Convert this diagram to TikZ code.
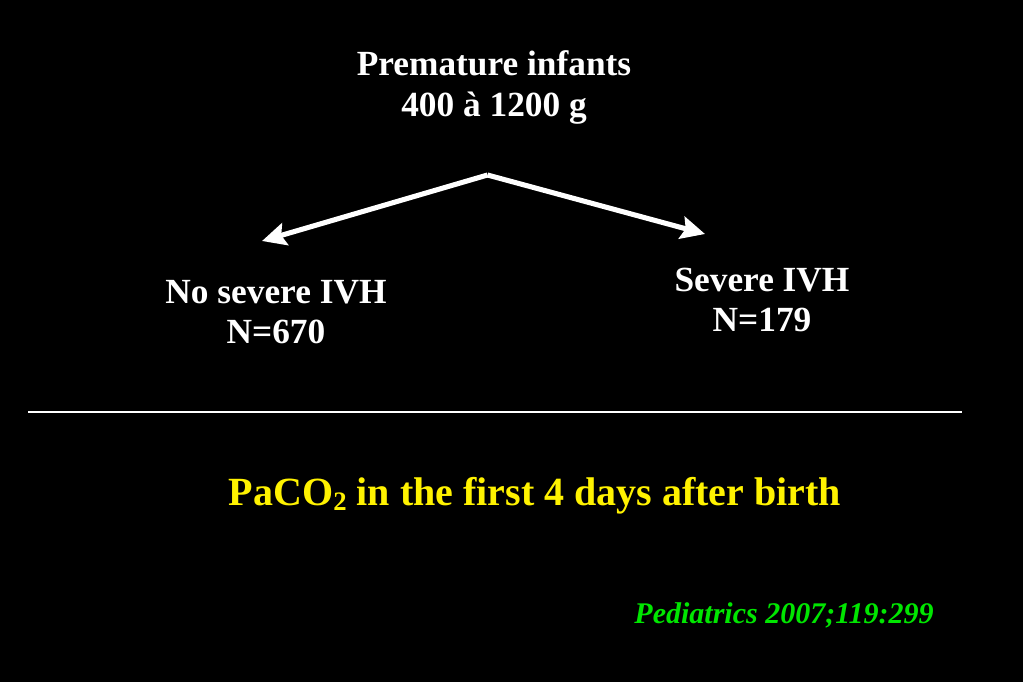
\documentclass[tikz,border=0pt]{standalone}
\usepackage{fontspec}
\setmainfont{Liberation Serif}
\usetikzlibrary{arrows.meta}
\begin{document}
\begin{tikzpicture}[x=0.75pt,y=-0.75pt,
  lbl/.style={text=white,font=\bfseries\fontsize{26.5}{30}\selectfont,align=center,inner sep=0pt},
  arr/.style={draw=white,line width=3.8pt,-{Stealth[length=18pt,width=17pt,inset=3pt]}}]
\fill[black] (0,0) rectangle (1023,682);
\useasboundingbox (0,0) rectangle (1023,682);
\node[lbl,anchor=base,font=\bfseries\fontsize{26.5}{30.5}\selectfont] (top) at (494,116) {Premature infants\\400 à 1200 g};
\coordinate (apex) at (487.5,175);
\node[lbl,anchor=base] (left) at (276,343) {No severe IVH\\N=670};
\node[lbl,anchor=base] (right) at (762,331) {Severe IVH\\N=179};
\coordinate (lt) at (262,241);
\coordinate (rt) at (705,234);
\draw[arr] (apex) -- (lt);
\draw[arr] (apex) -- (rt);
\coordinate (h1) at (28,412);
\coordinate (h2) at (962,412);
\draw[white,line width=1.1pt] (h1) -- (h2);
\node[anchor=base,inner sep=0pt,text=yellow,font=\bfseries\fontsize{30}{34}\selectfont] (title) at (535,505) {PaCO\raisebox{-0.3ex}{\fontsize{20}{20}\selectfont 2} in the first 4 days after birth};
\node[anchor=base,inner sep=0pt,text={rgb,255:red,0;green,230;blue,0},font=\bfseries\itshape\fontsize{22.5}{26}\selectfont] (ref) at (784,623) {Pediatrics 2007;119:299};
\end{tikzpicture}
\end{document}
